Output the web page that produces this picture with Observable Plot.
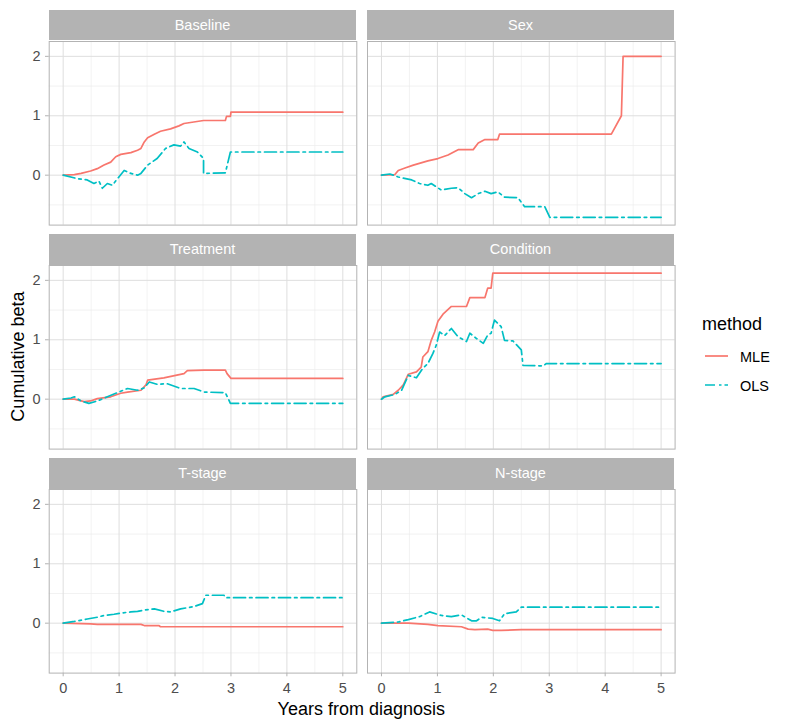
<!DOCTYPE html>
<html><head><meta charset="utf-8">
<script src="https://cdn.jsdelivr.net/npm/d3@7"></script>
<script src="https://cdn.jsdelivr.net/npm/@observablehq/plot@0.6"></script>
<style>
body{margin:0;background:#fff;font-family:"Liberation Sans",Arial,Helvetica,sans-serif;}
#wrap{position:relative;width:789px;height:728px;overflow:hidden;background:#fff;}
.strip{position:absolute;background:#B3B3B3;color:#fff;font-size:14.5px;text-align:center;}
.pan{position:absolute;}
#over{position:absolute;left:0;top:0;}
</style></head><body><div id="wrap"></div>
<script>
// ---- data ----
const panelNames = ["Baseline","Sex","Treatment","Condition","T-stage","N-stage"];
const methods = ["MLE","OLS"];
const methodColors = ["#F8766D","#00BFC4"];
const xTicks = [0,1,2,3,4,5];
const xMinor = [0.5,1.5,2.5,3.5,4.5];
const yTicks = [0,1,2];
const yMinor = [-0.5,0.5,1.5];

const baselineMLE = [[0,0],[0.2,0.01],[0.32,0.03],[0.49,0.07],[0.61,0.11],[0.73,0.17],[0.85,0.22],[0.94,0.31],[1.03,0.35],[1.21,0.38],[1.33,0.42],[1.39,0.45],[1.45,0.56],[1.51,0.63],[1.63,0.69],[1.74,0.74],[1.92,0.78],[2.07,0.83],[2.16,0.87],[2.51,0.92],[2.9,0.92],[2.92,0.99],[2.99,0.99],[3.0,1.06],[5,1.06]];
const baselineOLS = [[0,0],[0.26,-0.06],[0.43,-0.08],[0.49,-0.11],[0.55,-0.14],[0.64,-0.1],[0.7,-0.22],[0.79,-0.14],[0.88,-0.17],[0.97,-0.06],[1.09,0.08],[1.21,0.03],[1.33,0],[1.39,0.03],[1.51,0.17],[1.68,0.28],[1.83,0.45],[1.98,0.51],[2.10,0.49],[2.16,0.56],[2.25,0.45],[2.40,0.39],[2.51,0.28],[2.51,0.03],[2.90,0.04],[2.99,0.39],[5,0.39]];
const sexMLE = [[0,0],[0.24,0.01],[0.30,0.08],[0.42,0.12],[0.57,0.17],[0.83,0.24],[1.01,0.28],[1.19,0.34],[1.37,0.43],[1.64,0.43],[1.73,0.54],[1.85,0.60],[2.08,0.60],[2.11,0.69],[4.11,0.69],[4.29,1.0],[4.32,2.0],[5,2.0]];
const sexOLS = [[0,0],[0.15,0.02],[0.30,-0.03],[0.54,-0.08],[0.68,-0.14],[0.83,-0.17],[0.89,-0.14],[1.07,-0.25],[1.25,-0.22],[1.37,-0.21],[1.49,-0.31],[1.61,-0.38],[1.73,-0.31],[1.85,-0.27],[1.96,-0.31],[2.08,-0.28],[2.20,-0.37],[2.44,-0.38],[2.56,-0.53],[2.92,-0.53],[3.01,-0.71],[5,-0.71]];
const treatmentMLE = [[0,0],[0.2,0],[0.375,-0.04],[0.49,-0.03],[0.61,0.01],[0.85,0.04],[1.03,0.10],[1.15,0.12],[1.39,0.15],[1.48,0.24],[1.51,0.32],[1.80,0.36],[2.16,0.43],[2.22,0.48],[2.51,0.49],[2.90,0.49],[2.93,0.43],[3.0,0.35],[5,0.35]];
const treatmentOLS = [[0,0],[0.14,0.02],[0.2,0.04],[0.32,-0.03],[0.46,-0.07],[0.61,-0.03],[0.79,0.04],[0.97,0.11],[1.15,0.18],[1.33,0.15],[1.45,0.19],[1.54,0.29],[1.68,0.25],[1.86,0.26],[2.10,0.18],[2.34,0.18],[2.52,0.12],[2.90,0.11],[2.99,-0.07],[5,-0.07]];
const conditionMLE = [[0,0],[0.03,0.04],[0.21,0.08],[0.30,0.15],[0.39,0.24],[0.48,0.42],[0.625,0.46],[0.71,0.54],[0.74,0.71],[0.83,0.80],[0.89,0.99],[0.95,1.13],[1.01,1.31],[1.10,1.43],[1.25,1.56],[1.52,1.56],[1.58,1.71],[1.85,1.71],[1.90,1.87],[1.96,1.87],[1.99,2.12],[5,2.12]];
const conditionOLS = [[0,0],[0.06,0.04],[0.24,0.08],[0.36,0.15],[0.48,0.40],[0.625,0.36],[0.74,0.52],[0.83,0.60],[0.92,0.77],[0.98,0.91],[1.04,1.13],[1.13,1.07],[1.25,1.19],[1.37,1.05],[1.52,0.97],[1.58,1.11],[1.70,1.02],[1.82,0.94],[1.90,1.08],[1.96,1.11],[2.02,1.33],[2.14,1.22],[2.20,0.99],[2.35,0.98],[2.50,0.83],[2.53,0.57],[2.89,0.56],[2.95,0.60],[5,0.60]];
const tstageMLE = [[0,0],[0.49,-0.01],[0.61,-0.02],[1.39,-0.02],[1.45,-0.04],[1.71,-0.04],[1.74,-0.06],[5,-0.06]];
const tstageOLS = [[0,0],[0.2,0.03],[0.43,0.07],[0.61,0.10],[0.73,0.13],[0.91,0.15],[1.03,0.17],[1.21,0.19],[1.33,0.20],[1.45,0.22],[1.63,0.24],[1.80,0.20],[1.92,0.19],[2.10,0.24],[2.34,0.28],[2.49,0.33],[2.55,0.47],[2.875,0.47],[2.90,0.43],[5,0.43]];
const nstageMLE = [[0,0],[0.48,0],[0.83,-0.02],[1.01,-0.04],[1.43,-0.06],[1.55,-0.10],[1.67,-0.11],[1.90,-0.10],[1.99,-0.12],[2.14,-0.12],[2.5,-0.11],[5,-0.11]];
const nstageOLS = [[0,0],[0.30,0.02],[0.48,0.06],[0.68,0.11],[0.86,0.19],[1.07,0.13],[1.25,0.11],[1.43,0.14],[1.61,0.04],[1.70,0.04],[1.79,0.10],[1.99,0.08],[2.11,0.04],[2.20,0.16],[2.41,0.19],[2.5,0.27],[5,0.27]];

const panelData = [
  [baselineMLE, baselineOLS], [sexMLE, sexOLS],
  [treatmentMLE, treatmentOLS], [conditionMLE, conditionOLS],
  [tstageMLE, tstageOLS], [nstageMLE, nstageOLS]
];

// ---- layout ----
const wrap = document.getElementById("wrap");
const colLeft = [48.7, 366.7];
const rowTop = [40.5, 264.8, 489.1];
const PW = 307.6, PH = 183.6, SH = 30.7, PAD = 2;
const FONT = '"Liberation Sans",Arial,Helvetica,sans-serif';
const fmt = d => String(d);

panelNames.forEach((name, i) => {
  const r = Math.floor(i / 2), c = i % 2;
  const [mle, ols] = panelData[i];
  const rows = [
    ...mle.map(([t, v]) => ({t, v, method: "MLE"})),
    ...ols.map(([t, v]) => ({t, v, method: "OLS"}))
  ];
  const ml = c === 0 ? 48.7 : PAD;
  const mb = r === 2 ? 30 : PAD;
  const marks = [
    Plot.ruleX(xMinor, {stroke: "#EDEDED", strokeWidth: 0.7}),
    Plot.ruleY(yMinor, {stroke: "#EDEDED", strokeWidth: 0.7}),
    Plot.ruleX(xTicks, {stroke: "#DEDEDE", strokeWidth: 1}),
    Plot.ruleY(yTicks, {stroke: "#DEDEDE", strokeWidth: 1}),
    Plot.line(rows.filter(d => d.method === "MLE"), {x: "t", y: "v", stroke: "method", strokeWidth: 1.7}),
    Plot.line(rows.filter(d => d.method === "OLS"), {x: "t", y: "v", stroke: "method", strokeWidth: 1.7, strokeDasharray: "12,4,2.5,4"}),
    Plot.frame({stroke: "#B3B3B3", strokeWidth: 1})
  ];
  if (c === 0) marks.push(Plot.axisY(yTicks, {label: null, tickFormat: fmt, tickSize: 3.7, tickPadding: 5, stroke: "#B3B3B3", fill: "#4D4D4D", fontSize: 14.5}));
  if (r === 2) marks.push(Plot.axisX(xTicks, {label: null, tickFormat: fmt, tickSize: 3.7, tickPadding: 6, stroke: "#B3B3B3", fill: "#4D4D4D", fontSize: 14.5}));
  const chart = Plot.plot({
    width: ml + PW + PAD,
    height: PAD + PH + mb,
    marginLeft: ml, marginRight: PAD, marginTop: PAD, marginBottom: mb,
    style: {fontFamily: FONT, fontSize: "14.5px", background: "transparent", overflow: "visible"},
    x: {domain: [-0.25, 5.25], label: null, ...(r === 2 ? {} : {axis: null})},
    y: {domain: [-0.84, 2.25], label: null, ...(c === 0 ? {} : {axis: null})},
    color: {domain: methods, range: methodColors},
    marks
  });
  chart.classList.add("pan");
  chart.style.left = (colLeft[c] - ml) + "px";
  chart.style.top = (rowTop[r] - PAD) + "px";
  wrap.appendChild(chart);

  const strip = document.createElement("div");
  strip.className = "strip";
  strip.style.left = colLeft[c] + "px";
  strip.style.top = (rowTop[r] - SH) + "px";
  strip.style.width = PW + "px";
  strip.style.height = SH + "px";
  strip.style.lineHeight = SH + "px";
  strip.textContent = name;
  wrap.appendChild(strip);
});

// ---- titles and legend ----
const over = d3.select(wrap).append("svg").attr("id", "over")
  .attr("width", 789).attr("height", 728).style("font-family", FONT);
over.append("text").attr("x", 361.3).attr("y", 714.5).attr("text-anchor", "middle")
  .attr("font-size", 18).attr("fill", "#000").text("Years from diagnosis");
over.append("text").attr("transform", "translate(24,356.6) rotate(-90)").attr("text-anchor", "middle")
  .attr("font-size", 18).attr("fill", "#000").text("Cumulative beta");
over.append("text").attr("x", 702).attr("y", 330).attr("font-size", 18).attr("fill", "#000").text("method");
const keyY = [356, 385];
methods.forEach((m, i) => {
  over.append("line").attr("x1", 705).attr("x2", 728).attr("y1", keyY[i]).attr("y2", keyY[i])
    .attr("stroke", methodColors[i]).attr("stroke-width", 1.7)
    .attr("stroke-dasharray", i === 1 ? "10,4,2.5,3" : null);
  over.append("text").attr("x", 740).attr("y", keyY[i] + 6).attr("font-size", 14.5).attr("fill", "#000").text(m);
});
</script></body></html>
